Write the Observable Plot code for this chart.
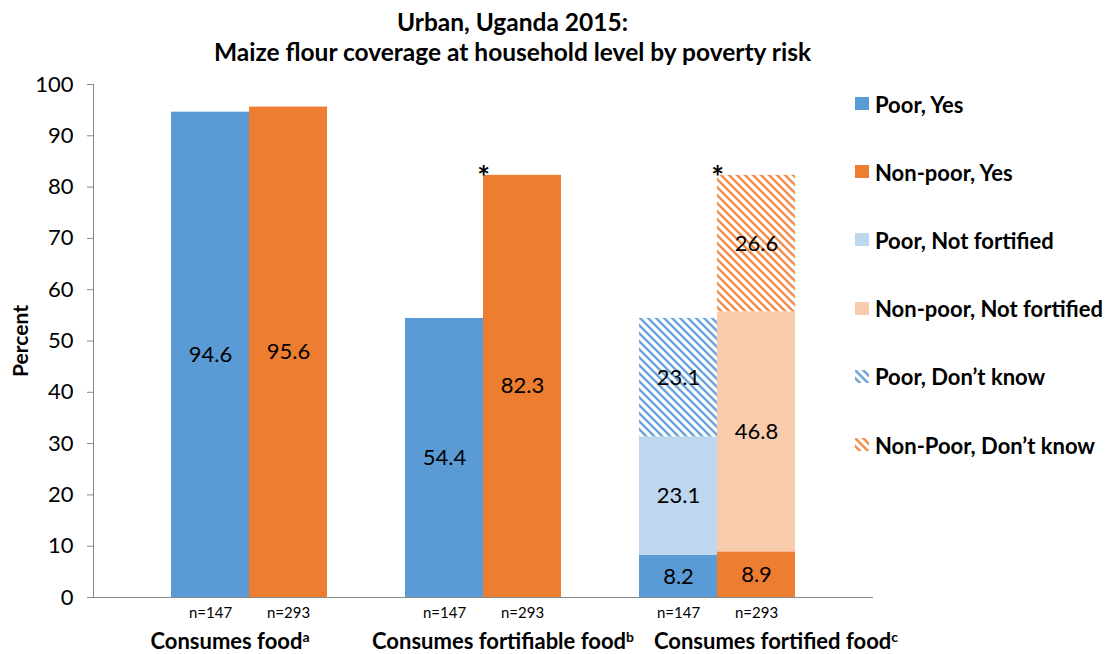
<!DOCTYPE html>
<html><head><meta charset="utf-8">
<script src="https://cdn.jsdelivr.net/npm/d3@7"></script>
<script src="https://cdn.jsdelivr.net/npm/@observablehq/plot@0.6"></script>
<style>
body{margin:0;background:#fff;font-family:Lato,"Open Sans",sans-serif;}
#wrap{position:relative;width:1115px;height:654px;overflow:hidden;background:#fff}
#title{position:absolute;left:0;top:7px;width:1025px;text-align:center;font-weight:bold;font-size:24.5px;line-height:30px;color:#000}
#chart{position:absolute;left:0;top:70px}
#legend{position:absolute;left:855px;top:70px}
.item{height:68.2px;display:flex;align-items:center;font-weight:bold;font-size:22px;color:#000;white-space:nowrap}
.item svg{margin-right:6px;flex:none}
g[aria-label="y-axis label"] text{font-weight:bold;font-size:21px}
</style></head>
<body>
<svg width="0" height="0" style="position:absolute">
  <defs>
    <pattern id="hatchBlue" patternUnits="userSpaceOnUse" width="8" height="8">
      <rect width="8" height="8" fill="#fff"/>
      <path d="M-2,-2L10,10M-2,6L2,10M6,-2L10,2" stroke="#6FA6DB" stroke-width="2.6"/>
    </pattern>
    <pattern id="hatchOrange" patternUnits="userSpaceOnUse" width="8" height="8">
      <rect width="8" height="8" fill="#fff"/>
      <path d="M-2,-2L10,10M-2,6L2,10M6,-2L10,2" stroke="#F08F4E" stroke-width="2.6"/>
    </pattern>
  </defs>
</svg>
<div id="wrap">
  <div id="title">Urban, Uganda 2015:<br>Maize flour coverage at household level by poverty risk</div>
  <div id="chart"></div>
  <div id="legend"></div>
</div>
<script>
// ---- data ----
const groups = ["Consumes food", "Consumes fortifiable food", "Consumes fortified food"];
const groupNotes = ["a", "b", "c"];
const poorYes = [94.6, 54.4, 8.2];
const nonPoorYes = [95.6, 82.3, 8.9];
const poorNotFortified = [null, null, 23.1];
const nonPoorNotFortified = [null, null, 46.8];
const poorDontKnow = [null, null, 23.1];
const nonPoorDontKnow = [null, null, 26.6];
const nPoor = [147, 147, 147];
const nNonPoor = [293, 293, 293];
const significant = [false, true, true];
const yTicks = [0, 10, 20, 30, 40, 50, 60, 70, 80, 90, 100];

// ---- series spec (styles) ----
const series = [
  {key: "Poor, Yes", side: 0, values: poorYes, fill: "#5B9BD5"},
  {key: "Non-poor, Yes", side: 1, values: nonPoorYes, fill: "#ED7D31"},
  {key: "Poor, Not fortified", side: 0, values: poorNotFortified, fill: "#BDD7EE"},
  {key: "Non-poor, Not fortified", side: 1, values: nonPoorNotFortified, fill: "#F8CBAD"},
  {key: "Poor, Don\u2019t know", side: 0, values: poorDontKnow, fill: "url(#hatchBlue)"},
  {key: "Non-Poor, Don\u2019t know", side: 1, values: nonPoorDontKnow, fill: "url(#hatchOrange)"}
];

// slot layout: each group takes 3 slots (2 bars + gap), first slot empty
const slot = (g, side) => 1 + 3 * g + side;
// category captions are spread evenly below the groups
const captionSlot = g => 1.75 + 3.5 * g;

const rows = [];
const tops = groups.map(() => [0, 0]);
groups.forEach((grp, g) => {
  series.forEach(s => {
    const v = s.values[g];
    if (v == null) return;
    const y1 = tops[g][s.side], y2 = y1 + v;
    tops[g][s.side] = y2;
    rows.push({key: s.key, group: grp, g, side: s.side, x1: slot(g, s.side), x2: slot(g, s.side) + 1, y1, y2, v});
  });
});

const nRows = [];
groups.forEach((grp, g) => {
  nRows.push({x: slot(g, 0) + 0.5, n: nPoor[g]});
  nRows.push({x: slot(g, 1) + 0.5, n: nNonPoor[g]});
});
const catRows = groups.map((grp, g) => ({x: captionSlot(g), label: grp, note: groupNotes[g]}));
const starRows = groups.map((grp, g) => ({x: slot(g, 1), y: tops[g][1], sig: significant[g]})).filter(d => d.sig);

const axisColor = "#898989";

const plot = Plot.plot({
  width: 880,
  height: 584,
  marginLeft: 93,
  marginRight: 7,
  marginTop: 14,
  marginBottom: 57,
  style: {fontFamily: "Lato, 'Open Sans', sans-serif", fontSize: "22px", color: "#000", background: "#fff", overflow: "visible"},
  x: {domain: [0, 10], axis: null},
  y: {domain: [0, 100], axis: null},
  marks: [
    ...series.map(s => Plot.rect(rows.filter(r => r.key === s.key), {
      x1: "x1", x2: "x2", y1: "y1", y2: "y2", fill: s.fill
    })),
    Plot.text(rows, {
      x: d => (d.x1 + d.x2) / 2, y: d => (d.y1 + d.y2) / 2,
      text: d => d.v.toFixed(1), fontSize: 22, fill: "#000"
    }),
    Plot.ruleX([0], {stroke: axisColor}),
    Plot.ruleY([0], {stroke: axisColor, strokeWidth: 1.2}),
    Plot.axisY(yTicks, {
      tickSize: 6, tickPadding: 14, stroke: axisColor, fill: "#000", fontSize: 22,
      label: "Percent", labelAnchor: "center", labelArrow: "none", labelOffset: 80
    }),
    Plot.text(starRows, {x: "x", y: "y", text: () => "*", fontSize: 30, fontWeight: "bold", dy: 3, fill: "#000"}),
    Plot.text(nRows, {x: "x", y: () => 0, text: d => `n=${d.n}`, fontSize: 15, dy: 16, fill: "#000"}),
    Plot.text(catRows, {x: "x", y: () => 0, text: "label", fontSize: 22, fontWeight: "bold", dy: 44, fill: "#000"})
  ]
});
document.getElementById("chart").appendChild(plot);

// superscript notes on category labels
d3.select(plot).selectAll("text").each(function() {
  const i = groups.indexOf(this.textContent);
  if (i < 0) return;
  d3.select(this).append("tspan").attr("dy", "-0.45em").attr("font-size", "14px").text(groupNotes[i]);
});

// legend
const legend = d3.select("#legend");
series.forEach(s => {
  const item = legend.append("div").attr("class", "item");
  const sw = item.append("svg").attr("width", 14).attr("height", 14);
  sw.append("rect").attr("width", 14).attr("height", 13).attr("y", 0).attr("fill", s.fill);
  item.append("span").text(s.key);
});
</script>
</body></html>
